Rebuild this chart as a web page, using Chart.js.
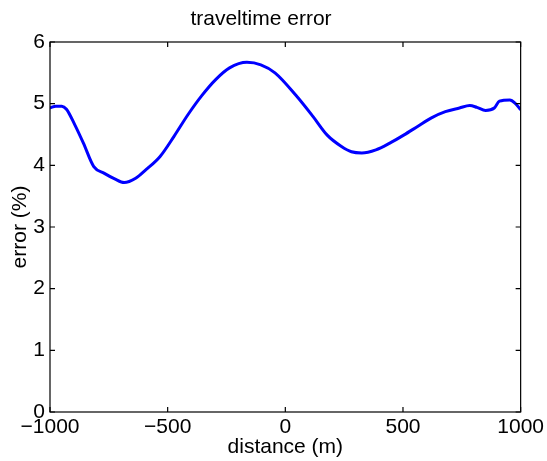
<!DOCTYPE html>
<html>
<head>
<meta charset="utf-8">
<title>traveltime error</title>
<script src="https://cdn.jsdelivr.net/npm/chart.js@4"></script>
<style>
  html, body { margin: 0; padding: 0; background: #fff; }
  #wrap { width: 547px; height: 461px; }
</style>
</head>
<body>
<div id="wrap"><canvas id="errChart"></canvas></div>
<script>
/* traveltime error vs distance */
var distance = [-1000, -975, -950, -930, -895, -858, -814, -769, -725, -685, -636, -592, -533, -473, -414,
                -355, -296, -237, -163, -104, -44, 44, 118, 178, 237, 281, 325, 385, 444, 503,
                562, 621, 680, 740, 784, 814, 851, 888, 910, 954, 976, 1000];
var errPct   = [4.93, 4.96, 4.96, 4.91, 4.66, 4.36, 3.98, 3.87, 3.78, 3.72, 3.79, 3.93, 4.14, 4.47, 4.82,
                5.13, 5.39, 5.58, 5.67, 5.63, 5.50, 5.14, 4.79, 4.49, 4.31, 4.22, 4.20, 4.25, 4.36, 4.49,
                4.63, 4.77, 4.87, 4.93, 4.97, 4.94, 4.89, 4.93, 5.04, 5.06, 5.01, 4.90];
var xTicks = [-1000, -500, 0, 500, 1000];
var yTicks = [0, 1, 2, 3, 4, 5, 6];

var FONT = 'Helvetica, Arial, "Liberation Sans", sans-serif';
var FS = 21;

function fmt(v) { return String(v).replace('-', '\u2212'); }

// matlab style box with inward ticks on all four sides
var boxTicks = {
    id: 'boxTicks',
    afterDraw: function(chart) {
        var c = chart.ctx, a = chart.chartArea, xs = chart.scales.x, ys = chart.scales.y, len = 5;
        c.save();
        c.strokeStyle = '#000';
        c.lineWidth = 1.2;
        c.strokeRect(a.left, a.top, a.right - a.left, a.bottom - a.top);
        c.beginPath();
        xTicks.forEach(function(t) {
            var px = xs.getPixelForValue(t);
            c.moveTo(px, a.bottom); c.lineTo(px, a.bottom - len);
            c.moveTo(px, a.top); c.lineTo(px, a.top + len);
        });
        yTicks.forEach(function(t) {
            var py = ys.getPixelForValue(t);
            c.moveTo(a.left, py); c.lineTo(a.left + len, py);
            c.moveTo(a.right, py); c.lineTo(a.right - len, py);
        });
        c.stroke();
        c.restore();
    }
};

new Chart(document.getElementById('errChart').getContext('2d'), {
    type: 'line',
    data: {
        datasets: [{
            data: distance.map(function(d, i) { return { x: d, y: errPct[i] }; }),
            borderColor: '#0000ff',
            borderWidth: 3,
            pointRadius: 0,
            fill: false,
            cubicInterpolationMode: 'monotone'
        }]
    },
    options: {
        responsive: true,
        maintainAspectRatio: false,
        animation: false,
        layout: { padding: { left: 0, right: 25, top: 0, bottom: 0 } },
        plugins: {
            legend: { display: false },
            tooltip: { enabled: false },
            title: {
                display: true,
                text: 'traveltime error',
                color: '#000',
                font: { family: FONT, size: FS, weight: 'normal', lineHeight: 1.2 },
                padding: { top: 7, bottom: 9.8 }
            }
        },
        scales: {
            x: {
                type: 'linear',
                min: -1000, max: 1000,
                afterBuildTicks: function(s) { s.ticks = xTicks.map(function(v) { return { value: v }; }); },
                afterFit: function(s) { s.height = 49; },
                grid: { display: false, drawTicks: false },
                border: { display: false },
                ticks: { color: '#000', padding: 3, maxRotation: 0, font: { family: FONT, size: FS }, callback: fmt },
                title: { display: true, text: 'distance (m)', color: '#000', font: { family: FONT, size: FS }, padding: { top: 0, bottom: 1 } }
            },
            y: {
                min: 0, max: 6,
                afterBuildTicks: function(s) { s.ticks = yTicks.map(function(v) { return { value: v }; }); },
                afterFit: function(s) { s.width = 50; },
                grid: { display: false, drawTicks: false },
                border: { display: false },
                ticks: { color: '#000', padding: 5, font: { family: FONT, size: FS }, callback: fmt },
                title: { display: true, text: 'error (%)', color: '#000', font: { family: FONT, size: FS }, padding: { top: 8, bottom: 0 } }
            }
        }
    },
    plugins: [boxTicks]
});
</script>
</body>
</html>
